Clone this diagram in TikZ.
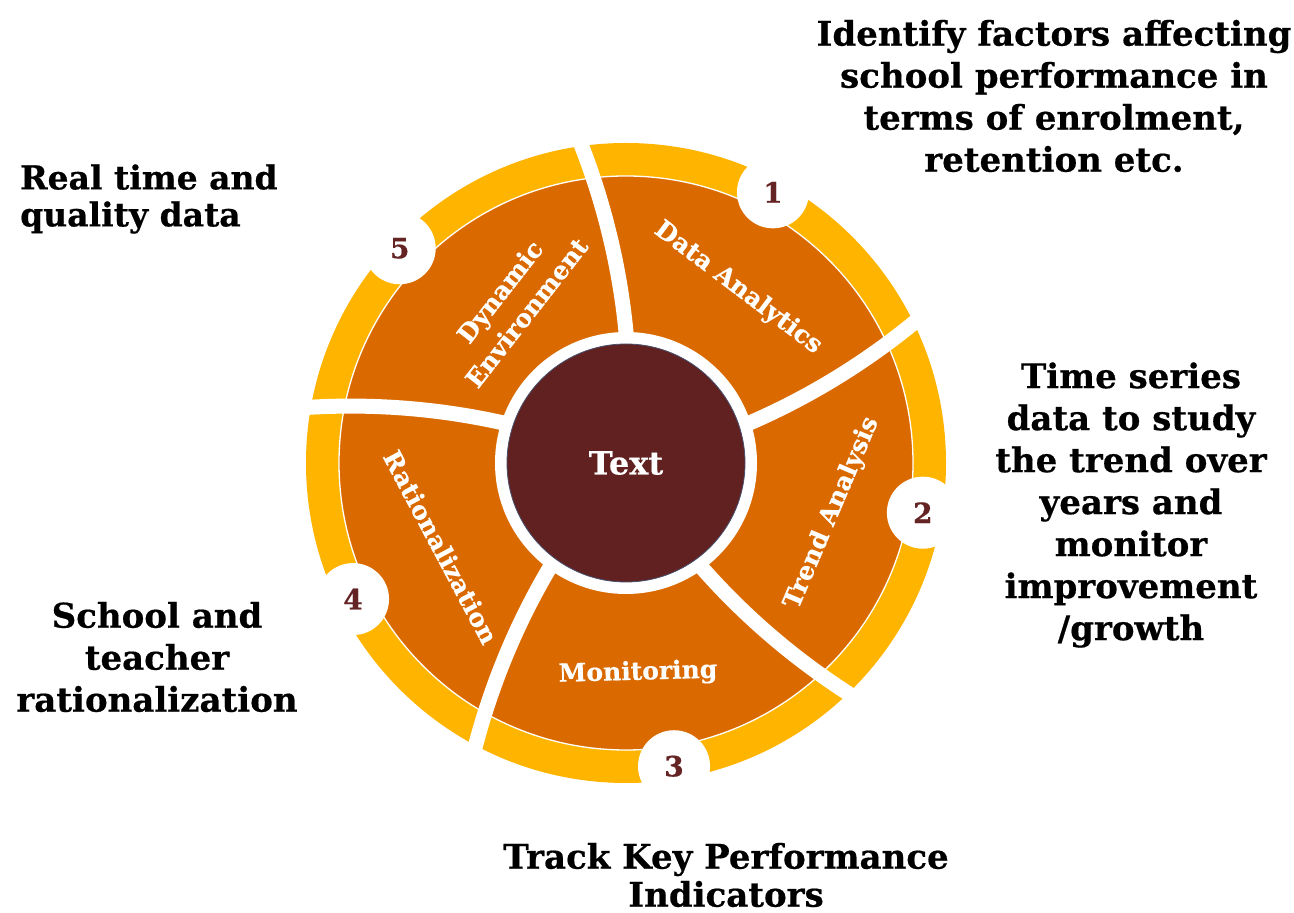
\documentclass[tikz,border=0pt]{standalone}
\usepackage{fontspec}
\setmainfont{DejaVu Serif}[BoldFeatures={FakeBold=0.5}]
\definecolor{ringyellow}{RGB}{255,181,0}
\definecolor{segorange}{RGB}{218,106,0}
\definecolor{hubmaroon}{RGB}{97,33,32}
\definecolor{hubedge}{RGB}{70,80,110}
\definecolor{numcol}{RGB}{100,36,36}
\begin{document}
\begin{tikzpicture}[x=1pt,y=1pt,
  sepband/.style={white, line width=15pt, line cap=butt},
  numc/.style={circle, fill=white, minimum size=72pt, inner sep=0pt, text=numcol, font=\fontsize{28}{32}\selectfont\bfseries},
  seglab/.style={text=white, inner sep=0pt, font=\fontsize{25}{30}\selectfont\bfseries, align=center},
  outlab/.style={text=black, inner sep=0pt, font=\fontsize{34}{42}\selectfont\bfseries, align=center},
  hubnode/.style={circle, fill=hubmaroon, draw=hubedge, line width=0.8pt, minimum size=238pt, inner sep=0pt, text=white, font=\fontsize{32}{36}\selectfont\bfseries}]
\useasboundingbox (0,0) rectangle (1294,913);
\fill[white] (0,0) rectangle (1294,913);
\begin{scope}[shift={(626,450)}]
  \fill[ringyellow] (0,0) circle (320);
  \fill[segorange] (0,0) circle (287);
  \draw[white, line width=1.3pt] (0,0) circle (287);
  \foreach \a in {0,72,144,216,288}
    \draw[sepband] plot[domain=115:340, samples=40, smooth, variable=\t] ({90-\a+8*(\t-131)/190}:{\t});
  \fill[white] (0,0) circle (131);
  \node[hubnode] (hub) at (0,0) {Text};
  \node[numc] (n1) at (61.5:308) {1};
  \node[numc] (n2) at (-9.5:301) {2};
  \node[numc] (n3) at (-81:307) {3};
  \node[numc] (n4) at (-153.5:305) {4};
  \node[numc] (n5) at (136.5:312) {5};
  \node[seglab, rotate=-37] (l1) at (112,175) {Data Analytics};
  \node[seglab, rotate=67] (l2) at (206,-50) {Trend Analysis};
  \node[seglab, rotate=1.5] (l3) at (12,-210) {Monitoring};
  \node[seglab, rotate=-62] (l4) at (-185,-84) {Rationalization};
  \node[seglab, rotate=52, font=\fontsize{25}{34}\selectfont\bfseries] (l5) at (-113,161) {Dynamic\\Environment};
\end{scope}
\node[outlab] (t1) at (1054,817) {Identify factors affecting\\school performance in\\terms of enrolment,\\retention etc.};
\node[outlab] (t2) at (1131,408) {Time series\\data to study\\the trend over\\years and\\monitor\\improvement\\/growth};
\node[outlab, font=\fontsize{34}{38}\selectfont\bfseries] (t3) at (726,38) {Track Key Performance\\Indicators};
\node[outlab] (t4) at (157,256) {School and\\teacher\\rationalization};
\node[outlab, align=left, anchor=west, font=\fontsize{33}{37}\selectfont\bfseries] (t5) at (20,714) {Real time and\\quality data};
\end{tikzpicture}
\end{document}
